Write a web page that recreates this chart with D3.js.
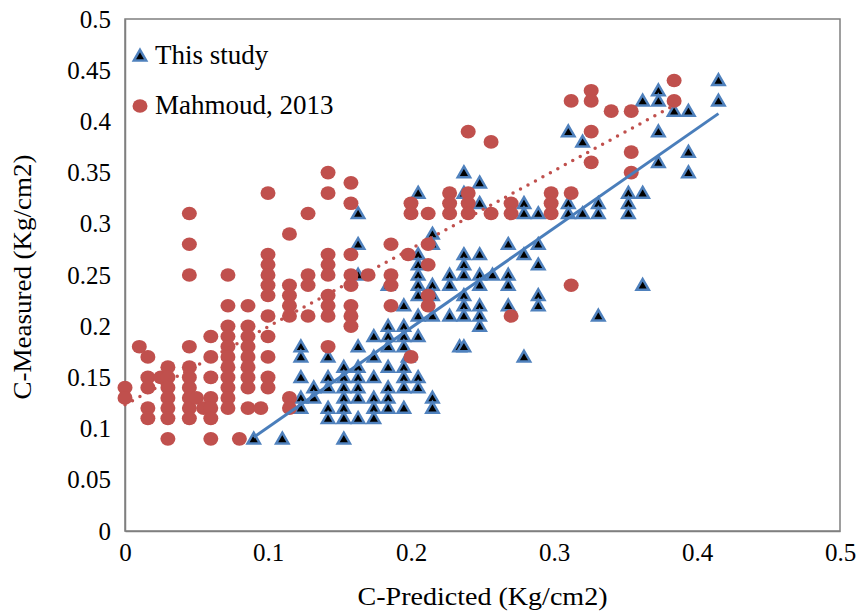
<!DOCTYPE html>
<html><head><meta charset="utf-8">
<script src="https://cdn.jsdelivr.net/npm/d3@7"></script>
<style>body{margin:0;background:#fff}svg{display:block}</style>
</head><body>
<svg id="chart" width="860" height="615"></svg>
<script>
const xTicks = [0, 0.1, 0.2, 0.3, 0.4, 0.5];
const yTicks = [0, 0.05, 0.1, 0.15, 0.2, 0.25, 0.3, 0.35, 0.4, 0.45, 0.5];
const seriesNames = ["This study", "Mahmoud, 2013"];
const xTitle = "C-Predicted (Kg/cm2)";
const yTitle = "C-Measured (Kg/cm2)";

const thisStudy = [
 [0.09,0.09],[0.11,0.09],[0.153,0.09],
 [0.123,0.18],[0.123,0.17],[0.123,0.15],[0.123,0.13],[0.123,0.12],
 [0.132,0.14],[0.132,0.13],
 [0.142,0.17],[0.142,0.15],[0.142,0.14],[0.142,0.12],[0.142,0.11],
 [0.153,0.16],[0.153,0.15],[0.153,0.14],[0.153,0.13],[0.153,0.12],[0.153,0.11],
 [0.163,0.18],[0.163,0.16],[0.163,0.15],[0.163,0.14],[0.163,0.13],[0.163,0.11],
 [0.174,0.19],[0.174,0.17],[0.174,0.15],[0.174,0.13],[0.174,0.12],[0.174,0.11],
 [0.184,0.2],[0.184,0.19],[0.184,0.18],[0.184,0.16],[0.184,0.14],[0.184,0.13],[0.184,0.12],
 [0.195,0.2],[0.195,0.19],[0.195,0.18],[0.195,0.16],[0.195,0.15],[0.195,0.14],[0.195,0.12],
 [0.198,0.17],[0.205,0.19],[0.205,0.15],[0.205,0.14],
 [0.215,0.13],[0.215,0.12],[0.234,0.18],
 [0.163,0.31],[0.163,0.28],[0.163,0.25],
 [0.184,0.24],[0.195,0.22],
 [0.205,0.33],[0.205,0.27],[0.205,0.26],[0.205,0.25],[0.205,0.24],[0.205,0.23],[0.205,0.21],
 [0.215,0.29],[0.215,0.28],[0.215,0.24],[0.215,0.23],[0.215,0.21],
 [0.227,0.25],[0.227,0.24],[0.227,0.21],
 [0.237,0.35],[0.237,0.33],[0.237,0.27],[0.237,0.26],[0.237,0.25],[0.237,0.23],[0.237,0.22],[0.237,0.21],[0.237,0.18],
 [0.248,0.34],[0.248,0.32],[0.248,0.27],[0.248,0.25],[0.248,0.24],[0.248,0.22],[0.248,0.21],[0.248,0.2],
 [0.257,0.25],
 [0.268,0.28],[0.268,0.25],[0.268,0.24],[0.268,0.22],
 [0.279,0.32],[0.279,0.31],[0.279,0.27],[0.279,0.17],
 [0.289,0.31],[0.289,0.28],[0.289,0.26],[0.289,0.23],[0.289,0.22],
 [0.31,0.39],[0.31,0.32],[0.31,0.31],
 [0.32,0.38],[0.32,0.31],
 [0.331,0.32],[0.331,0.31],[0.331,0.21],
 [0.352,0.33],[0.352,0.32],[0.352,0.31],
 [0.362,0.42],[0.362,0.33],[0.362,0.24],
 [0.373,0.43],[0.373,0.42],[0.373,0.39],[0.373,0.36],
 [0.384,0.41],[0.394,0.41],[0.394,0.37],[0.394,0.35],
 [0.415,0.44],[0.415,0.42]
];

const mahmoud = [
 [0.0,0.14],[0.0,0.13],
 [0.01,0.18],[0.016,0.17],[0.016,0.15],[0.016,0.14],[0.016,0.12],[0.016,0.11],[0.025,0.15],
 [0.03,0.16],[0.03,0.15],[0.03,0.14],[0.03,0.13],[0.03,0.12],[0.03,0.11],[0.03,0.09],
 [0.045,0.31],[0.045,0.28],[0.045,0.25],[0.045,0.18],[0.045,0.16],[0.045,0.15],[0.045,0.14],[0.045,0.13],[0.045,0.12],[0.045,0.11],
 [0.05,0.13],[0.055,0.12],
 [0.06,0.19],[0.06,0.17],[0.06,0.15],[0.06,0.13],[0.06,0.12],[0.06,0.11],[0.06,0.09],
 [0.072,0.25],[0.072,0.22],[0.072,0.2],[0.072,0.19],[0.072,0.18],[0.072,0.17],[0.072,0.16],[0.072,0.15],[0.072,0.14],[0.072,0.13],[0.072,0.12],
 [0.08,0.09],
 [0.086,0.22],[0.086,0.2],[0.086,0.19],[0.086,0.18],[0.086,0.17],[0.086,0.16],[0.086,0.15],[0.086,0.14],[0.086,0.12],[0.095,0.12],
 [0.1,0.33],[0.1,0.27],[0.1,0.26],[0.1,0.25],[0.1,0.24],[0.1,0.23],[0.1,0.21],[0.1,0.19],[0.1,0.17],[0.1,0.15],[0.1,0.14],
 [0.115,0.29],[0.115,0.24],[0.115,0.23],[0.115,0.22],[0.115,0.21],[0.115,0.13],[0.115,0.12],
 [0.128,0.31],[0.128,0.25],[0.128,0.24],[0.128,0.21],
 [0.142,0.35],[0.142,0.33],[0.142,0.27],[0.142,0.26],[0.142,0.25],[0.142,0.23],[0.142,0.22],[0.142,0.21],[0.142,0.18],
 [0.158,0.34],[0.158,0.32],[0.158,0.27],[0.158,0.25],[0.158,0.24],[0.158,0.22],[0.158,0.21],[0.158,0.2],
 [0.17,0.25],
 [0.186,0.28],[0.186,0.25],[0.186,0.24],[0.186,0.22],
 [0.198,0.27],[0.2,0.17],[0.2,0.32],[0.2,0.31],
 [0.212,0.28],[0.212,0.26],[0.212,0.23],[0.212,0.22],[0.212,0.31],
 [0.227,0.33],[0.227,0.32],[0.227,0.31],
 [0.24,0.39],[0.24,0.33],[0.24,0.32],[0.24,0.31],
 [0.256,0.38],[0.256,0.31],
 [0.27,0.32],[0.27,0.31],[0.27,0.21],
 [0.298,0.33],[0.298,0.32],[0.298,0.31],
 [0.312,0.42],[0.312,0.33],[0.312,0.24],
 [0.326,0.43],[0.326,0.42],[0.326,0.39],[0.326,0.36],
 [0.34,0.41],[0.354,0.41],[0.354,0.37],[0.354,0.35],
 [0.384,0.44],[0.384,0.42]
];

const svg = d3.select("#chart");
const font = "'Liberation Serif','Times New Roman',serif";
const L = 125, R = 840, T = 19, B = 531;
const x = d3.scaleLinear().domain([0, 0.5]).range([L, R]);
const y = d3.scaleLinear().domain([0, 0.5]).range([B, T]);
const fmt = d => String(+d.toFixed(2));

svg.append("rect").attr("x", L).attr("y", T).attr("width", R - L).attr("height", B - T)
  .attr("fill", "none").attr("stroke", "#7f7f7f").attr("stroke-width", 1.5);

const xAxis = svg.append("g").attr("transform", `translate(0,${B})`)
  .call(d3.axisBottom(x).tickValues(xTicks).tickFormat(fmt).tickSize(0).tickPadding(12));
const yAxis = svg.append("g").attr("transform", `translate(${L},0)`)
  .call(d3.axisLeft(y).tickValues(yTicks).tickFormat(fmt).tickSize(0).tickPadding(14));
[xAxis, yAxis].forEach(a => {
  a.select(".domain").attr("stroke", "#7f7f7f").attr("stroke-width", 1.5);
  a.selectAll("text").attr("font-family", font).attr("font-size", 25).attr("fill", "#000");
});

function fit(data) {
  const mx = d3.mean(data, d => d[0]), my = d3.mean(data, d => d[1]);
  const sxy = d3.sum(data, d => (d[0] - mx) * (d[1] - my));
  const sxx = d3.sum(data, d => (d[0] - mx) ** 2);
  const b = sxy / sxx, a = my - b * mx;
  const [x0, x1] = d3.extent(data, d => d[0]);
  return [[x0, a + b * x0], [x1, a + b * x1]];
}
const line = d3.line().x(d => x(d[0])).y(d => y(d[1]));

const tri = d3.symbol(d3.symbolTriangle, 66);
svg.append("g").selectAll("path").data(thisStudy).join("path")
  .attr("d", tri).attr("transform", d => `translate(${x(d[0])},${y(d[1]) + 1})`)
  .attr("fill", "#000").attr("stroke", "#4f81bd").attr("stroke-width", 2.5);

svg.append("g").selectAll("ellipse").data(mahmoud).join("ellipse")
  .attr("cx", d => x(d[0])).attr("cy", d => y(d[1])).attr("rx", 7.5).attr("ry", 6.8)
  .attr("fill", "#c0504d");

svg.append("path").attr("d", line(fit(thisStudy)))
  .attr("stroke", "#4a7ebb").attr("stroke-width", 3).attr("fill", "none");
svg.append("path").attr("d", line(fit(mahmoud)))
  .attr("stroke", "#c0504d").attr("stroke-width", 3.5).attr("fill", "none")
  .attr("stroke-dasharray", "0,8.5").attr("stroke-linecap", "round");

const lg = svg.append("g");
lg.append("path").attr("d", tri).attr("transform", "translate(140,57)")
  .attr("fill", "#000").attr("stroke", "#4f81bd").attr("stroke-width", 2.5);
lg.append("ellipse").attr("cx", 140).attr("cy", 106).attr("rx", 7.5).attr("ry", 6.8).attr("fill", "#c0504d");
lg.selectAll("text").data(seriesNames).join("text")
  .attr("x", 155).attr("y", (d, i) => 64 + i * 50)
  .attr("font-family", font).attr("font-size", 27).attr("fill", "#000").text(d => d);

svg.append("text").attr("x", (L + R) / 2).attr("y", 605).attr("text-anchor", "middle")
  .attr("font-family", font).attr("font-size", 26).attr("fill", "#000")
  .attr("textLength", 250).attr("lengthAdjust", "spacingAndGlyphs").text(xTitle);
svg.append("text").attr("transform", `translate(31,${(T + B) / 2 + 2}) rotate(-90)`)
  .attr("text-anchor", "middle")
  .attr("font-family", font).attr("font-size", 26).attr("fill", "#000")
  .attr("textLength", 245).attr("lengthAdjust", "spacingAndGlyphs").text(yTitle);
</script>
</body></html>
